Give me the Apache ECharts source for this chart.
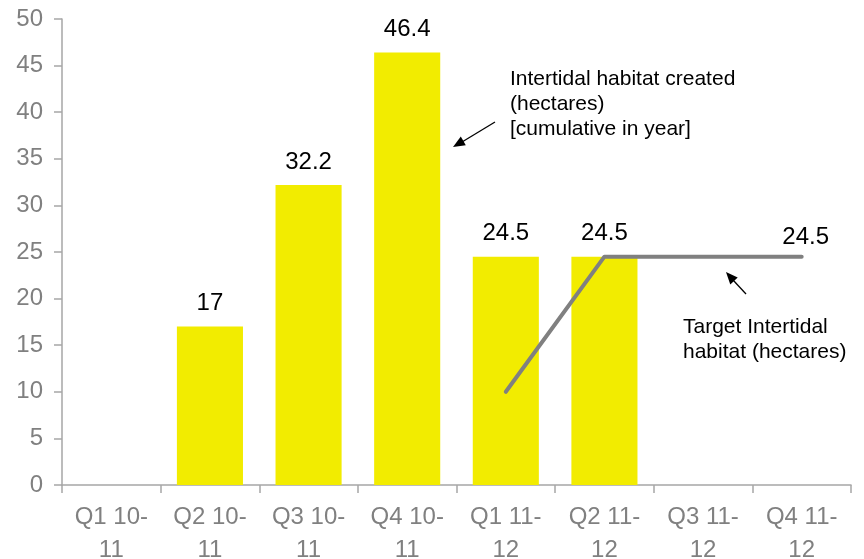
<!DOCTYPE html>
<html>
<head>
<meta charset="utf-8">
<script src="https://cdn.jsdelivr.net/npm/echarts@6/dist/echarts.min.js"></script>
<style>
  html, body { margin: 0; padding: 0; background: #fff; }
  #chart { width: 864px; height: 559px; }
</style>
</head>
<body>
<div id="chart"></div>
<script>
// Quarter labels along the category axis
const quarters = ['Q1 10-\n11', 'Q2 10-\n11', 'Q3 10-\n11', 'Q4 10-\n11',
                  'Q1 11-\n12', 'Q2 11-\n12', 'Q3 11-\n12', 'Q4 11-\n12'];
// Intertidal habitat created, hectares (cumulative in year)
const created = [null, 17, 32.2, 46.4, 24.5, 24.5, null, null];
// Target intertidal habitat, hectares
const target = [null, null, null, null, 10, 24.5, 24.5, 24.5];
// Value-axis ticks
const yTicks = [0, 5, 10, 15, 20, 25, 30, 35, 40, 45, 50];

const font = 'Arial, "Liberation Sans", sans-serif';
const grey = '#808080';
const axisGrey = '#a6a6a6';

const chart = echarts.init(document.getElementById('chart'), null, { renderer: 'canvas' });

chart.setOption({
  animation: false,
  backgroundColor: '#fff',
  grid: {
    left: 62, right: 13, top: 19, bottom: 74,
    containLabel: false, outerBoundsMode: 'none'
  },
  xAxis: {
    type: 'category',
    data: quarters,
    boundaryGap: true,
    axisLine: { lineStyle: { color: axisGrey, width: 1.5 } },
    axisTick: { show: true, length: 8, lineStyle: { color: axisGrey, width: 1.5 } },
    axisLabel: {
      color: grey, fontFamily: font, fontSize: 24, lineHeight: 33,
      margin: 16, interval: 0
    }
  },
  yAxis: {
    type: 'value',
    min: yTicks[0],
    max: yTicks[yTicks.length - 1],
    interval: yTicks[1] - yTicks[0],
    splitLine: { show: false },
    axisLine: { show: true, lineStyle: { color: axisGrey, width: 1.5 } },
    axisTick: { show: true, length: 8, lineStyle: { color: axisGrey, width: 1.5 } },
    axisLabel: { color: grey, fontFamily: font, fontSize: 24, margin: 19 }
  },
  series: [
    {
      name: 'Intertidal habitat created',
      type: 'bar',
      data: created,
      barWidth: '67%',
      itemStyle: { color: '#f2ec00' },
      label: {
        show: true, position: 'top', distance: 11,
        color: '#000', fontFamily: font, fontSize: 24
      }
    },
    {
      name: 'Target Intertidal habitat',
      type: 'line',
      data: target,
      symbol: 'none',
      lineStyle: { color: '#808080', width: 4, cap: 'round', join: 'round' },
      markPoint: {
        symbol: 'circle', symbolSize: 0,
        data: [{ coord: [7, target[7]], value: target[7] }],
        label: {
          show: true, position: 'top', distance: 7, offset: [4, 0],
          color: '#000', fontFamily: font, fontSize: 24,
          formatter: p => String(p.value)
        }
      }
    }
  ],
  graphic: [
    {
      type: 'text', left: 510, top: 67,
      style: {
        text: 'Intertidal habitat created\n(hectares)\n[cumulative in year]',
        font: '21px ' + font, fill: '#000', lineHeight: 25
      }
    },
    { type: 'line', shape: { x1: 495, y1: 122, x2: 462, y2: 142 },
      style: { stroke: '#000', lineWidth: 1.3 } },
    { type: 'polygon', shape: { points: [[453, 147], [460.8, 136.6], [465.8, 145.2]] },
      style: { fill: '#000' } },
    {
      type: 'text', left: 683, top: 315,
      style: {
        text: 'Target Intertidal\nhabitat (hectares)',
        font: '21px ' + font, fill: '#000', lineHeight: 25
      }
    },
    { type: 'line', shape: { x1: 746, y1: 294, x2: 733, y2: 280 },
      style: { stroke: '#000', lineWidth: 1.3 } },
    { type: 'polygon', shape: { points: [[726, 272], [737.7, 277.6], [730.3, 284.4]] },
      style: { fill: '#000' } }
  ]
});
</script>
</body>
</html>
